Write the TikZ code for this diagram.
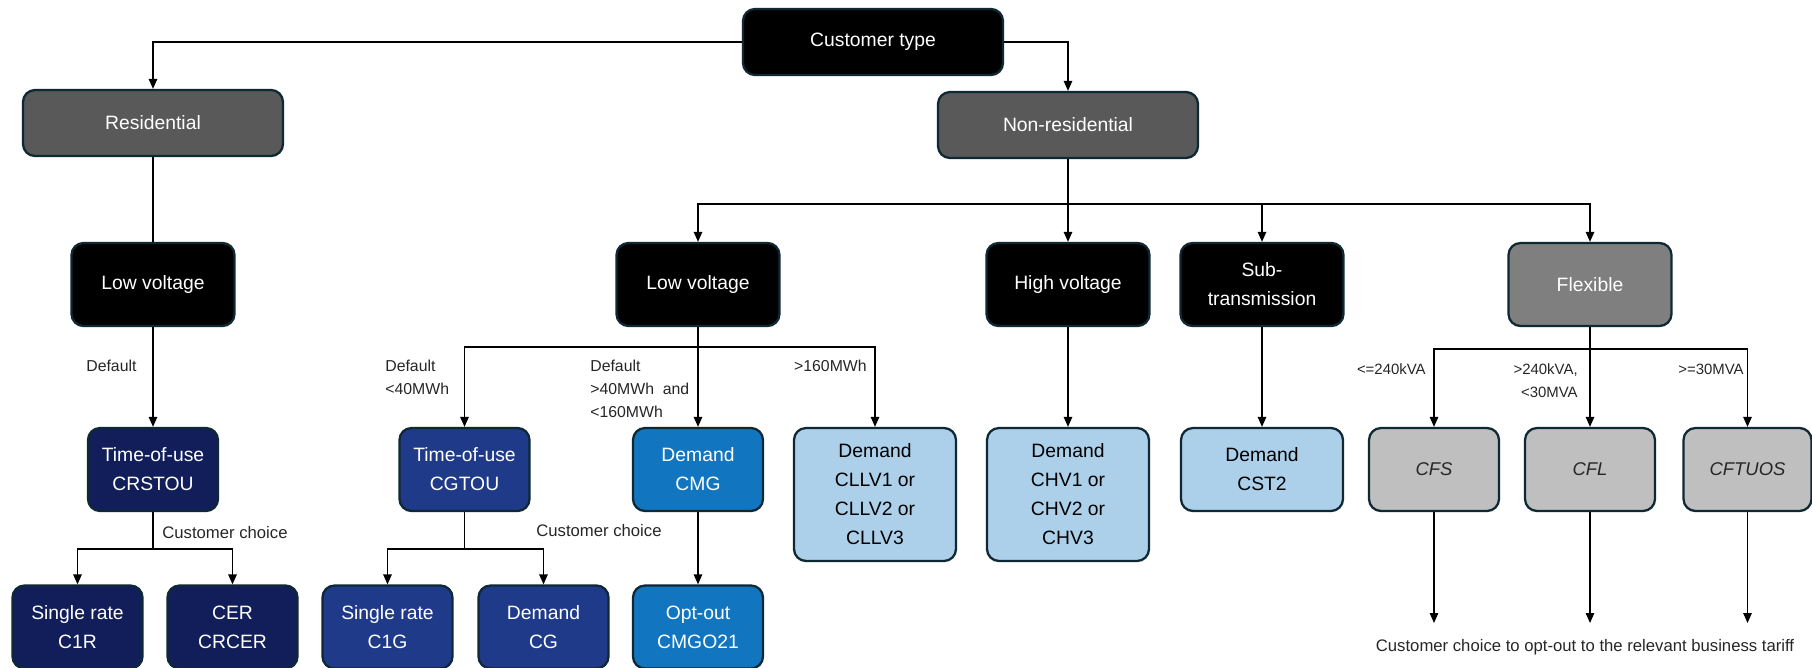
\documentclass[tikz,border=0pt]{standalone}
\usepackage{fontspec}
\setmainfont{Liberation Sans}
\usetikzlibrary{arrows.meta}

\definecolor{edgeblue}{RGB}{14,40,52}
\definecolor{resgray}{RGB}{89,89,89}
\definecolor{flexgray}{RGB}{127,127,127}
\definecolor{navyA}{RGB}{17,30,90}
\definecolor{navyB}{RGB}{32,58,138}
\definecolor{midblue}{RGB}{17,118,191}
\definecolor{paleblue}{RGB}{173,208,234}
\definecolor{palegray}{RGB}{191,191,191}
\definecolor{labelgray}{RGB}{38,38,38}

\tikzset{
  tbox/.style={draw=edgeblue, line width=1.3pt, rounded corners=2.4mm, align=center,
    text=white, inner sep=2pt, font=\fontsize{11}{16.5}\selectfont},
  topbox/.style={tbox, minimum width=52mm, minimum height=13.2mm},
  voltbox/.style={tbox, fill=black, minimum width=32.6mm, minimum height=16.6mm},
  tariffbox/.style={tbox, minimum width=26mm, minimum height=16.6mm},
  palebox/.style={tbox, fill=paleblue, text=black, minimum width=32.4mm, minimum height=16.6mm},
  flexbox/.style={tariffbox, fill=palegray, text=labelgray, font=\fontsize{10.5}{14}\selectfont\itshape},
  arr/.style={-{Triangle[length=2mm,width=1.7mm]}, line width=0.75pt},
  lbl/.style={text=labelgray, inner sep=0pt, font=\fontsize{9}{13}\selectfont},
}

\begin{document}
\begin{tikzpicture}[x=0.2mm, y=-0.2mm]
  \useasboundingbox (0,0) rectangle (1812,667);

  % customer type
  \node[topbox, fill=black] (ctype) at (873,42) {Customer type};
  \node[topbox, fill=resgray] (resid) at (153,123) {Residential};
  \node[topbox, fill=resgray] (nonres) at (1068,125) {Non-residential};

  % voltage level
  \node[voltbox] (lvres) at (153,284.5) {Low voltage};
  \node[voltbox] (lvnon) at (698,284.5) {Low voltage};
  \node[voltbox] (hv) at (1068,284.5) {High voltage};
  \node[voltbox] (subtx) at (1262,284.5) {Sub-\\transmission};
  \node[voltbox, fill=flexgray] (flex) at (1590,284.5) {Flexible};

  % tariffs
  \node[tariffbox, fill=navyA] (trs) at (153,469.5) {Time-of-use\\CRSTOU};
  \node[tariffbox, fill=navyB] (tgs) at (464.5,469.5) {Time-of-use\\CGTOU};
  \node[tariffbox, fill=midblue] (cmg) at (698,469.5) {Demand\\CMG};
  \node[palebox, minimum height=26.6mm] (cllv) at (875,494.5) {Demand\\CLLV1 or\\CLLV2 or\\CLLV3};
  \node[palebox, minimum height=26.6mm] (chv) at (1068,494.5) {Demand\\CHV1 or\\CHV2 or\\CHV3};
  \node[palebox] (cst) at (1262,469.5) {Demand\\CST2};
  \node[flexbox] (cfs) at (1434,469.5) {CFS};
  \node[flexbox] (cfl) at (1590,469.5) {CFL};
  \node[flexbox, minimum width=25.6mm] (cft) at (1747.5,469.5) {CFTUOS};

  % customer choice
  \node[tariffbox, fill=navyA] (c1r) at (77.5,627) {Single rate\\C1R};
  \node[tariffbox, fill=navyA] (crcer) at (232.5,627) {CER\\CRCER};
  \node[tariffbox, fill=navyB] (c1g) at (387.5,627) {Single rate\\C1G};
  \node[tariffbox, fill=navyB] (cg) at (543.5,627) {Demand\\CG};
  \node[tariffbox, fill=midblue] (cmgo) at (698,627) {Opt-out\\CMGO21};

  % branch points
  \coordinate (nrbus) at (1068,204);
  \coordinate (lvbus) at (698,347);
  \coordinate (flbus) at (1590,349);
  \coordinate (trsbus) at (153,549);
  \coordinate (tgsbus) at (464.5,549);
  \coordinate (optline) at (0,623);

  \draw[arr] (ctype.west) -| (resid.north);
  \draw[arr] (ctype.east) -| (nonres.north);
  \draw[line width=0.75pt] (resid.south) -- (lvres.north);
  \draw[arr] (nonres.south) -- (hv.north);
  \draw[arr] (nrbus) -| (lvnon.north);
  \draw[arr] (nrbus) -| (subtx.north);
  \draw[arr] (nrbus) -| (flex.north);

  \draw[arr] (lvres.south) -- (trs.north);
  \draw[arr] (lvnon.south) -- (cmg.north);
  \draw[arr] (lvbus) -| (tgs.north);
  \draw[arr] (lvbus) -| (cllv.north);
  \draw[arr] (hv.south) -- (chv.north);
  \draw[arr] (subtx.south) -- (cst.north);
  \draw[arr] (flex.south) -- (cfl.north);
  \draw[arr] (flbus) -| (cfs.north);
  \draw[arr] (flbus) -| (cft.north);

  \draw[line width=0.75pt] (trs.south) -- (trsbus);
  \draw[arr] (trsbus) -| (c1r.north);
  \draw[arr] (trsbus) -| (crcer.north);
  \draw[line width=0.75pt] (tgs.south) -- (tgsbus);
  \draw[arr] (tgsbus) -| (c1g.north);
  \draw[arr] (tgsbus) -| (cg.north);
  \draw[arr] (cmg.south) -- (cmgo.north);

  \draw[arr] (cfs.south) -- (cfs.south |- optline);
  \draw[arr] (cfl.south) -- (cfl.south |- optline);
  \draw[arr] (cft.south) -- (cft.south |- optline);

  % labels
  \node[lbl, anchor=west] (dflres) at (86,366) {Default};
  \node[lbl, anchor=west, align=left] (dfllow) at (385,377.5) {Default\\<40MWh};
  \node[lbl, anchor=west, align=left] (dflmid) at (590,389) {Default\\>40MWh~~and\\<160MWh};
  \node[lbl, anchor=east] (hilbl) at (867,366) {>160MWh};
  \node[lbl, anchor=west, font=\fontsize{9.5}{13}\selectfont] (chres) at (162,533) {Customer choice};
  \node[lbl, anchor=west, font=\fontsize{9.5}{13}\selectfont] (chgen) at (536,531) {Customer choice};
  \node[lbl, anchor=east, font=\fontsize{8.5}{13}\selectfont] (kvalo) at (1426,369) {<=240kVA};
  \node[lbl, anchor=east, align=right, font=\fontsize{8.5}{13}\selectfont] (kvamid) at (1578,380.5) {>240kVA,\\<30MVA};
  \node[lbl, anchor=east, font=\fontsize{8.5}{13}\selectfont] (mvahi) at (1744,369) {>=30MVA};
  \node[lbl, font=\fontsize{9.5}{13}\selectfont] (optout) at (1585,647) {Customer choice to opt-out to the relevant business tariff};
\end{tikzpicture}
\end{document}
